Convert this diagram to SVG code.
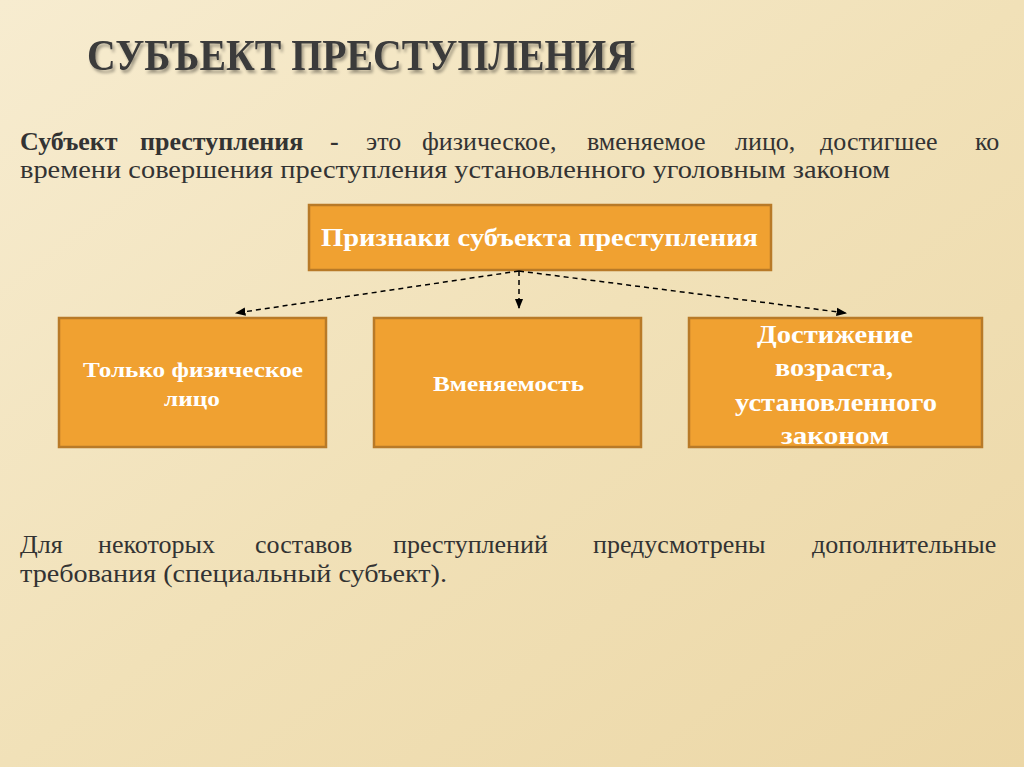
<svg xmlns="http://www.w3.org/2000/svg" width="1024" height="767" viewBox="0 0 1024 767">
<defs>
<linearGradient id="bg" x1="0" y1="0" x2="1" y2="1">
<stop offset="0" stop-color="#f7ecd0"/><stop offset="0.5" stop-color="#f1e1b8"/><stop offset="1" stop-color="#ecd7a6"/>
</linearGradient>
<marker id="ah" viewBox="0 0 10 10" refX="9" refY="5" markerWidth="7" markerHeight="7" orient="auto"><path d="M0,1 L10,5 L0,9 z" fill="#000"/></marker>
<filter id="sh"><feDropShadow dx="2" dy="3" stdDeviation="1.5" flood-color="#000" flood-opacity="0.35"/></filter>
</defs>
<style>
.box{fill:#f0a131;stroke:#b87a28;stroke-width:2.5}
.bt{font-family:"Liberation Serif",serif;font-weight:bold;fill:#fff;font-size:22px;text-anchor:start}
.bl{font-size:26px}
.body{font-family:"Liberation Serif",serif;font-size:26px;fill:#333}
.con{stroke:#000;stroke-width:1.5;stroke-dasharray:5,4;fill:none;marker-end:url(#ah)}
</style>
<rect width="1024" height="767" fill="url(#bg)"/>
<text x="87" y="70" font-family="Liberation Serif,serif" font-size="44" font-weight="bold" fill="#3b3b3b" filter="url(#sh)" textLength="548" lengthAdjust="spacingAndGlyphs">СУБЪЕКТ ПРЕСТУПЛЕНИЯ</text>
<text class="body" y="150"><tspan x="20" font-weight="bold">Субъект</tspan><tspan x="140" font-weight="bold">преступления</tspan><tspan x="330" font-weight="bold">-</tspan><tspan x="366">это</tspan><tspan x="422">физическое,</tspan><tspan x="587">вменяемое</tspan><tspan x="735">лицо,</tspan><tspan x="820">достигшее</tspan><tspan x="975">ко</tspan></text>
<text class="body" x="20" y="178" textLength="870" lengthAdjust="spacingAndGlyphs">времени совершения преступления установленного уголовным законом</text>
<g id="top"><rect class="box" x="309" y="205" width="462" height="65"/><text class="bt bl" x="321" y="246" textLength="437" lengthAdjust="spacingAndGlyphs">Признаки субъекта преступления</text></g>
<g id="n1"><rect class="box" x="59" y="318" width="267" height="129"/><text class="bt" x="83" y="377" textLength="220" lengthAdjust="spacingAndGlyphs">Только физическое</text><text class="bt" x="164" y="406" textLength="56" lengthAdjust="spacingAndGlyphs">лицо</text></g>
<g id="n2"><rect class="box" x="374" y="318" width="267" height="129"/><text class="bt" x="433" y="391" textLength="151" lengthAdjust="spacingAndGlyphs">Вменяемость</text></g>
<g id="n3"><rect class="box" x="689" y="318" width="293" height="129"/>
<text class="bt bl" x="757" y="343" textLength="156" lengthAdjust="spacingAndGlyphs">Достижение</text>
<text class="bt bl" x="775" y="376" textLength="118" lengthAdjust="spacingAndGlyphs">возраста,</text>
<text class="bt bl" x="735" y="411" textLength="202" lengthAdjust="spacingAndGlyphs">установленного</text>
<text class="bt bl" x="781" y="444" textLength="108" lengthAdjust="spacingAndGlyphs">законом</text></g>
<g id="connectors">
<line class="con" x1="519" y1="271" x2="236" y2="313"/>
<line class="con" x1="519" y1="271" x2="519" y2="308"/>
<line class="con" x1="519" y1="271" x2="846" y2="313"/>
</g>
<text class="body" y="553"><tspan x="20">Для</tspan><tspan x="98">некоторых</tspan><tspan x="255">составов</tspan><tspan x="393">преступлений</tspan><tspan x="593">предусмотрены</tspan><tspan x="812">дополнительные</tspan></text>
<text class="body" x="20" y="582" textLength="427" lengthAdjust="spacingAndGlyphs">требования (специальный субъект).</text>
</svg>
